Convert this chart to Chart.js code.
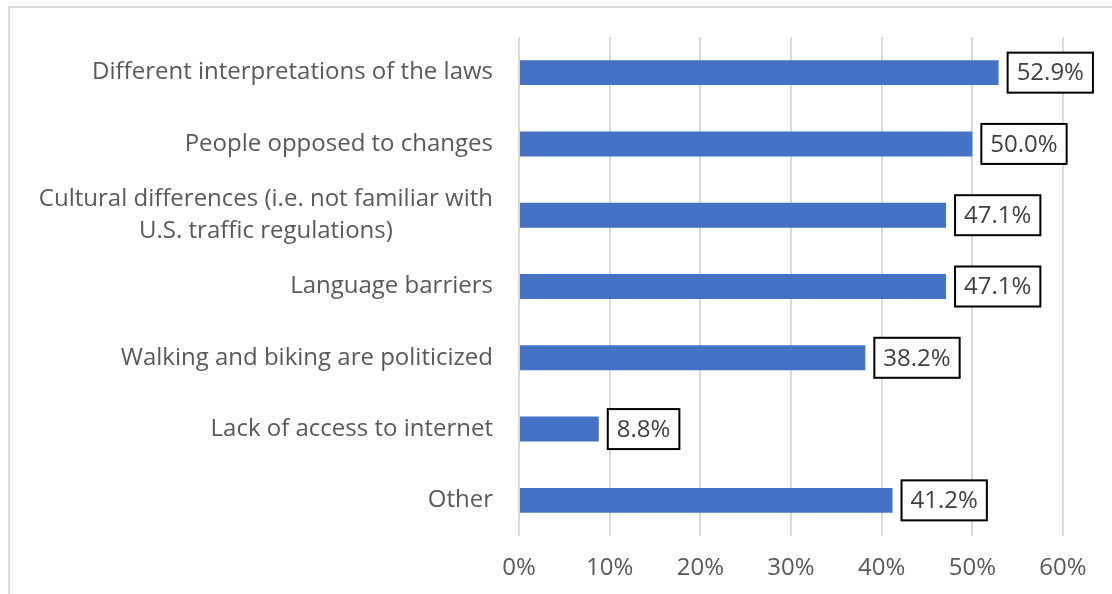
<!DOCTYPE html>
<html>
<head>
<meta charset="utf-8">
<script src="https://cdn.jsdelivr.net/npm/chart.js@4/dist/chart.umd.min.js"></script>
<style>
  html, body { margin: 0; padding: 0; background: #fff; }
  #wrap { position: relative; width: 1112px; height: 594px; overflow: hidden; }
  #frame { position: absolute; left: 8px; top: 6px; width: 1200px; height: 700px;
           border-left: 2px solid #d9d9d9; border-top: 2px solid #d9d9d9; box-sizing: border-box; }
  canvas { position: absolute; left: 0; top: 0; }
</style>
</head>
<body>
<div id="wrap">
  <div id="frame"></div>
  <canvas id="c" width="1112" height="594"></canvas>
</div>
<script>
const categories = [
  ["Different interpretations of the laws"],
  ["People opposed to changes"],
  ["Cultural differences (i.e. not familiar with", "U.S. traffic regulations)"],
  ["Language barriers"],
  ["Walking and biking are politicized"],
  ["Lack of access to internet"],
  ["Other"]
];
const values = [52.9, 50.0, 47.1, 47.1, 38.2, 8.8, 41.2];
const xTicks = [0, 10, 20, 30, 40, 50, 60];

const FONT = '"Open Sans", sans-serif';
const LABEL_SIZE = 24;

const yLabelPlugin = {
  id: 'yLabels',
  afterDraw(chart) {
    const ctx = chart.ctx;
    const y = chart.scales.y;
    ctx.save();
    ctx.font = LABEL_SIZE + 'px ' + FONT;
    ctx.fillStyle = '#595959';
    ctx.textBaseline = 'middle';
    const rightEdge = 493;
    const lh = 32;
    categories.forEach((lines, i) => {
      const cy = y.getPixelForValue(i);
      const widths = lines.map(l => ctx.measureText(l).width);
      const maxW = Math.max(...widths);
      const blockCenter = rightEdge - maxW / 2;
      lines.forEach((l, j) => {
        const ly = cy + (j - (lines.length - 1) / 2) * lh;
        ctx.textAlign = 'center';
        ctx.fillText(l, blockCenter, ly);
      });
    });
    ctx.restore();
  }
};

const boxLabelPlugin = {
  id: 'boxLabels',
  afterDatasetsDraw(chart) {
    const ctx = chart.ctx;
    const meta = chart.getDatasetMeta(0);
    ctx.save();
    ctx.font = LABEL_SIZE + 'px ' + FONT;
    meta.data.forEach((bar, i) => {
      const txt = values[i].toFixed(1) + '%';
      const tw = ctx.measureText(txt).width;
      const w = tw + 18, h = 40;
      const x = bar.x + 9, yy = bar.y - h / 2;
      ctx.fillStyle = '#ffffff';
      ctx.fillRect(x, yy, w, h);
      ctx.lineWidth = 2;
      ctx.strokeStyle = '#000000';
      ctx.strokeRect(x, yy, w, h);
      ctx.fillStyle = '#404040';
      ctx.textAlign = 'center';
      ctx.textBaseline = 'middle';
      ctx.fillText(txt, x + w / 2, bar.y + 1);
    });
    ctx.restore();
  }
};

new Chart(document.getElementById('c'), {
  type: 'bar',
  data: {
    labels: categories,
    datasets: [{
      data: values,
      backgroundColor: '#4472c4',
      borderWidth: 0,
      categoryPercentage: 1.0,
      barPercentage: 0.35
    }]
  },
  options: {
    indexAxis: 'y',
    responsive: false,
    animation: false,
    devicePixelRatio: 1,
    layout: { padding: { top: 37, right: 49, left: 0, bottom: 0 } },
    plugins: { legend: { display: false }, tooltip: { enabled: false } },
    scales: {
      x: {
        min: 0, max: 60,
        afterBuildTicks(scale) { scale.ticks = xTicks.map(v => ({ value: v })); },
        afterFit(scale) { scale.height = 58; },
        grid: { color: '#d9d9d9', lineWidth: 2, drawTicks: false },
        border: { display: false },
        ticks: {
          padding: 18,
          color: '#595959',
          font: { family: FONT, size: LABEL_SIZE },
          callback: v => v + '%',
          maxRotation: 0
        }
      },
      y: {
        afterFit(scale) { scale.width = 519; },
        grid: { display: false },
        border: { display: false },
        ticks: { display: false }
      }
    }
  },
  plugins: [yLabelPlugin, boxLabelPlugin]
});
</script>
</body>
</html>
